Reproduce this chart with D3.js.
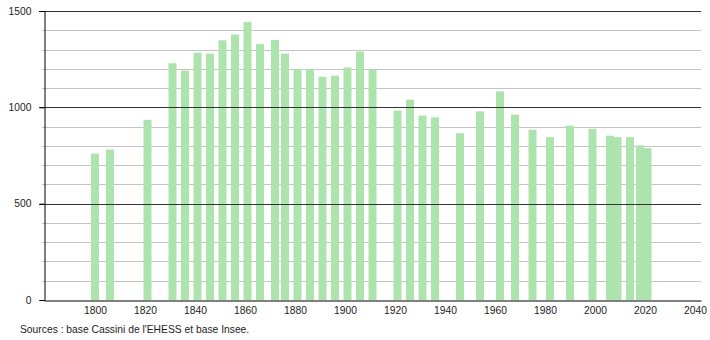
<!DOCTYPE html>
<html>
<head>
<meta charset="utf-8">
<script src="https://cdn.jsdelivr.net/npm/d3@7"></script>
<style>
  body { margin: 0; background: #fff; }
  svg text { font-family: "Liberation Sans", Arial, sans-serif; font-size: 10.3px; fill: #222; }
</style>
</head>
<body>
<div class="plot"></div>
<script>
// recensements
const years = [1800, 1806, 1821, 1831, 1836, 1841, 1846, 1851, 1856, 1861, 1866, 1872, 1876,
  1881, 1886, 1891, 1896, 1901, 1906, 1911, 1921, 1926, 1931, 1936, 1946, 1954, 1962, 1968,
  1975, 1982, 1990, 1999, 2006, 2009, 2014, 2018, 2021]
const population = [760, 781, 935, 1229, 1191, 1284, 1279, 1348, 1378, 1443, 1328, 1350, 1279,
  1198, 1198, 1159, 1164, 1207, 1290, 1198, 983, 1040, 957, 948, 866, 979, 1083, 962,
  884, 845, 905, 888, 853, 845, 845, 802, 788]
const yTicks = [0, 500, 1000, 1500]
const xTicks = [1800, 1820, 1840, 1860, 1880, 1900, 1920, 1940, 1960, 1980, 2000, 2020, 2040]
const sourceText = "Sources : base Cassini de l'EHESS et base Insee."

let width = 710, height = 340
let margin = {top: 11, right: 9, bottom: 40, left: 44}

let svg = d3.select(".plot").append("svg")
  .attr("width", width)
  .attr("height", height)

let x = d3.scaleLinear()
  .domain([1779.6, 2042.4])
  .range([margin.left, width - margin.right])
let y = d3.scaleLinear()
  .domain([0, 1500])
  .range([height - margin.bottom, margin.top])

// minor grid every 100
let minor = d3.range(100, 1500, 100).filter(function(v){ return v % 500 != 0 })
svg.append("g").selectAll("line.minor")
  .data(minor)
  .enter().append("line")
  .attr("x1", margin.left - 2)
  .attr("x2", width - margin.right)
  .attr("y1", function(d){ return Math.round(y(d)) + 0.5 })
  .attr("y2", function(d){ return Math.round(y(d)) + 0.5 })
  .attr("stroke", "#c4c4c4")
  .attr("stroke-width", 1)

// bars
let barW = 8
svg.append("g").selectAll("rect")
  .data(years)
  .enter().append("rect")
  .attr("x", function(d){ return x(d) - barW / 2 })
  .attr("y", function(d, i){ return y(population[i]) })
  .attr("width", barW)
  .attr("height", function(d, i){ return y(0) - y(population[i]) })
  .attr("fill", "#ade3ad")

// major grid
svg.append("g").selectAll("line.major")
  .data(yTicks.filter(function(v){ return v > 0 }))
  .enter().append("line")
  .attr("x1", margin.left - 5)
  .attr("x2", width - margin.right)
  .attr("y1", function(d){ return Math.round(y(d)) + 0.5 })
  .attr("y2", function(d){ return Math.round(y(d)) + 0.5 })
  .attr("stroke", "#333")
  .attr("stroke-width", 1)

// y axis
let yAxis = d3.axisLeft(y).tickValues(yTicks).tickSize(5).tickPadding(8).tickFormat(d3.format("d"))
let gy = svg.append("g")
  .attr("transform", "translate(" + (margin.left + 0.5) + ",0)")
  .call(yAxis)
gy.select(".domain").attr("stroke", "#000")
gy.selectAll(".tick line").attr("stroke", "#000")
gy.selectAll("text").style("font-size", "10.3px").attr("fill", "#222")

// x axis
let xAxis = d3.axisBottom(x).tickValues(xTicks).tickSize(0).tickPadding(6).tickFormat(d3.format("d"))
let gx = svg.append("g")
  .attr("transform", "translate(0," + (Math.round(y(0)) + 0.5) + ")")
  .call(xAxis)
gx.select(".domain").attr("stroke", "#000")
gx.selectAll("text").style("font-size", "10.3px").attr("fill", "#222")

svg.append("text")
  .attr("x", 20)
  .attr("y", 333)
  .text(sourceText)
</script>
</body>
</html>
